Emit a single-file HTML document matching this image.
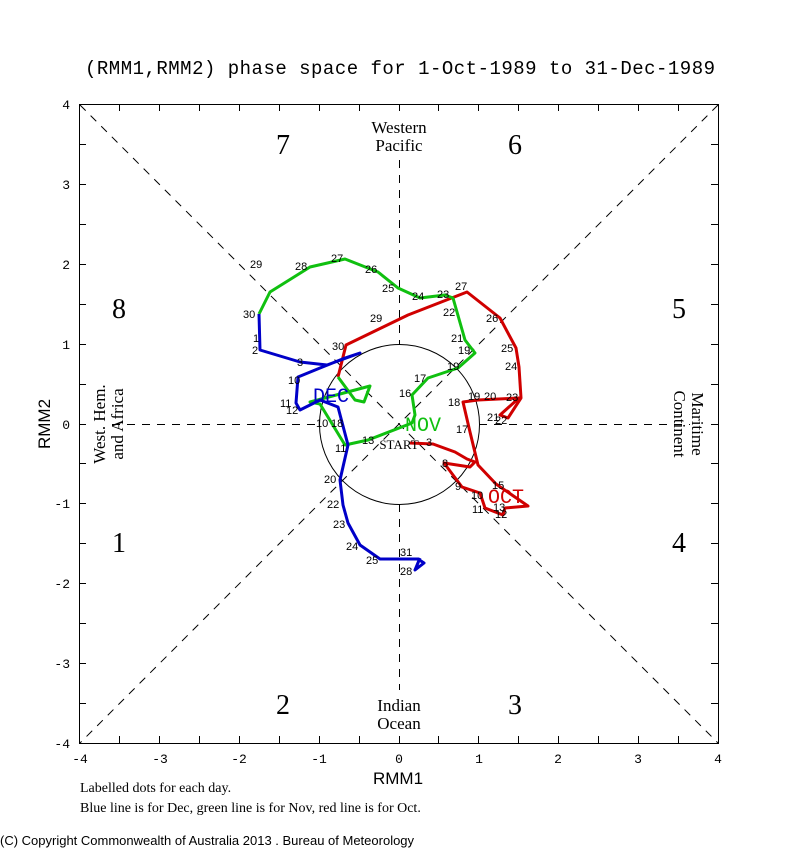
<!DOCTYPE html>
<html><head><style>body{margin:0;background:#fff}svg{display:block}</style></head>
<body>
<svg width="800" height="850" xmlns="http://www.w3.org/2000/svg" font-family="Liberation Serif, serif">
<rect width="800" height="850" fill="#fff"/>
<text x="400" y="74" text-anchor="middle" font-family="Liberation Mono, monospace" font-size="19" textLength="630" fill="#000">(RMM1,RMM2) phase space for  1-Oct-1989 to 31-Dec-1989</text>
<rect x="79.5" y="104.5" width="639" height="639" fill="none" stroke="#000" stroke-width="1"/>
<g stroke="#000" stroke-width="1">
<path d="M119.5 104v7M159.5 104v7M199.5 104v7M239.5 104v7M279.5 104v7M319.5 104v7M359.5 104v7M399.5 104v7M438.5 104v7M478.5 104v7M518.5 104v7M558.5 104v7M598.5 104v7M638.5 104v7M678.5 104v7
M119.5 743v-7M159.5 743v-7M199.5 743v-7M239.5 743v-7M279.5 743v-7M319.5 743v-7M359.5 743v-7M399.5 743v-7M438.5 743v-7M478.5 743v-7M518.5 743v-7M558.5 743v-7M598.5 743v-7M638.5 743v-7M678.5 743v-7
M79 144.5h7M79 184.5h7M79 224.5h7M79 264.5h7M79 304.5h7M79 344.5h7M79 384.5h7M79 424.5h7M79 463.5h7M79 503.5h7M79 543.5h7M79 583.5h7M79 623.5h7M79 663.5h7M79 703.5h7
M718 144.5h-7M718 184.5h-7M718 224.5h-7M718 264.5h-7M718 304.5h-7M718 344.5h-7M718 384.5h-7M718 424.5h-7M718 463.5h-7M718 503.5h-7M718 543.5h-7M718 583.5h-7M718 623.5h-7M718 663.5h-7M718 703.5h-7"/>
</g>
<g stroke="#000" stroke-width="1" stroke-dasharray="8,7" fill="none">
<line x1="80" y1="105" x2="718" y2="743"/>
<line x1="718" y1="105" x2="80" y2="743"/>
<line x1="399.5" y1="160" x2="399.5" y2="344"/>
<line x1="399.5" y1="504" x2="399.5" y2="690"/>
<line x1="112" y1="424.5" x2="319" y2="424.5"/>
<line x1="479" y1="424.5" x2="690" y2="424.5"/>
</g>
<circle cx="399.5" cy="424.5" r="80" fill="none" stroke="#000" stroke-width="1"/>
<g font-family="Liberation Mono, monospace" font-size="13" fill="#000">
<g text-anchor="middle">
<text x="80" y="763">-4</text><text x="160" y="763">-3</text><text x="239" y="763">-2</text><text x="319" y="763">-1</text><text x="399" y="763">0</text><text x="479" y="763">1</text><text x="558" y="763">2</text><text x="638" y="763">3</text><text x="718" y="763">4</text>
</g>
<g text-anchor="end">
<text x="70" y="109">4</text><text x="70" y="189">3</text><text x="70" y="269">2</text><text x="70" y="349">1</text><text x="70" y="429">0</text><text x="70" y="508">-1</text><text x="70" y="588">-2</text><text x="70" y="668">-3</text><text x="70" y="748">-4</text>
</g>
</g>
<text x="398" y="784" text-anchor="middle" font-family="Liberation Sans, sans-serif" font-size="17">RMM1</text>
<text transform="translate(50,424) rotate(-90)" text-anchor="middle" font-family="Liberation Sans, sans-serif" font-size="17">RMM2</text>
<g font-size="28" text-anchor="middle" fill="#000">
<text x="283" y="154">7</text><text x="515" y="154">6</text>
<text x="119" y="318">8</text><text x="679" y="318">5</text>
<text x="119" y="552">1</text><text x="679" y="552">4</text>
<text x="283" y="714">2</text><text x="515" y="714">3</text>
</g>
<g font-size="17" text-anchor="middle">
<text x="399" y="133">Western</text><text x="399" y="151">Pacific</text>
<text x="399" y="711">Indian</text><text x="399" y="729">Ocean</text>
<text transform="translate(105,424) rotate(-90)">West. Hem.</text>
<text transform="translate(123,424) rotate(-90)">and Africa</text>
<text transform="translate(692,424) rotate(90)">Maritime</text>
<text transform="translate(674,424) rotate(90)">Continent</text>
</g>
<text x="80" y="792" font-size="14">Labelled dots for each day.</text>
<text x="80" y="812" font-size="14">Blue line is for Dec, green line is for Nov, red line is for Oct.</text>
<text x="0" y="845" font-family="Liberation Sans, sans-serif" font-size="13">(C) Copyright Commonwealth of Australia 2013 . Bureau of Meteorology</text>

<g fill="none" stroke-width="3" stroke-linejoin="round">
<polyline stroke="#d00000" points="410,443 433,444 455,452 467,459 475,462 470,467 444,463 462,487 480,493 485,508 503,515 505,508 528,506 496,484 478,465 470,432 463,402 478,400 519,398 500,415 508,418 521,398 519,367 516,348 500,318 467,292 408,315 346,345 338,377"/>
<polyline stroke="#10c010" points="338,377 355,400 364,402 370,386 310,402 320,404 345,445 368,440 412,423 415,415 412,395 428,378 458,368 475,353 465,340 453,298 445,295 420,298 398,288 378,272 345,259 310,267 270,292 259,314"/>
<polyline stroke="#0000c8" points="259,314 260,350 300,362 327,365 360,353 345,358 320,368 298,377 296,403 300,410 320,400 338,407 348,445 340,480 343,505 348,523 360,545 380,559 418,559 424,563 415,570 420,558"/>
</g>
<g font-family="Liberation Sans, sans-serif" font-size="11" fill="#000">
<text x="399" y="449" font-family="Liberation Serif, serif" font-size="13" text-anchor="middle">START</text>
<text x="250" y="268">29</text><text x="243" y="318">30</text><text x="253" y="342">1</text><text x="252" y="354">2</text>
<text x="295" y="270">28</text><text x="331" y="262">27</text><text x="365" y="273">26</text><text x="382" y="292">25</text>
<text x="412" y="300">24</text><text x="437" y="298">23</text><text x="443" y="316">22</text><text x="451" y="342">21</text>
<text x="458" y="354">19</text><text x="447" y="370">19</text><text x="414" y="382">17</text><text x="399" y="397">16</text>
<text x="370" y="322">29</text><text x="486" y="322">26</text><text x="501" y="352">25</text><text x="505" y="370">24</text>
<text x="506" y="401">23</text><text x="484" y="400">20</text><text x="468" y="400">19</text><text x="448" y="406">18</text>
<text x="456" y="433">17</text><text x="487" y="421">21</text><text x="495" y="424">22</text><text x="455" y="290">27</text>
<text x="332" y="350">30</text><text x="288" y="384">10</text><text x="280" y="407">11</text><text x="286" y="414">12</text>
<text x="316" y="427">10</text><text x="331" y="427">18</text><text x="335" y="452">11</text><text x="362" y="444">13</text>
<text x="324" y="483">20</text><text x="327" y="508">22</text><text x="333" y="528">23</text><text x="346" y="550">24</text>
<text x="366" y="564">25</text><text x="400" y="575">28</text><text x="400" y="556">31</text><text x="442" y="467">8</text>
<text x="455" y="490">9</text><text x="471" y="499">10</text><text x="472" y="513">11</text><text x="495" y="518">12</text>
<text x="493" y="511">13</text><text x="492" y="489">15</text><text x="426" y="446">3</text><text x="297" y="366">3</text>
</g>
<text x="313" y="402" font-size="20" fill="#0000c8" font-family="Liberation Mono, monospace">DEC</text>
<text x="405" y="431" font-size="20" fill="#10c010" font-family="Liberation Mono, monospace">NOV</text>
<text x="488" y="503" font-size="20" fill="#d00000" font-family="Liberation Mono, monospace">OCT</text>
</svg>
</body></html>
